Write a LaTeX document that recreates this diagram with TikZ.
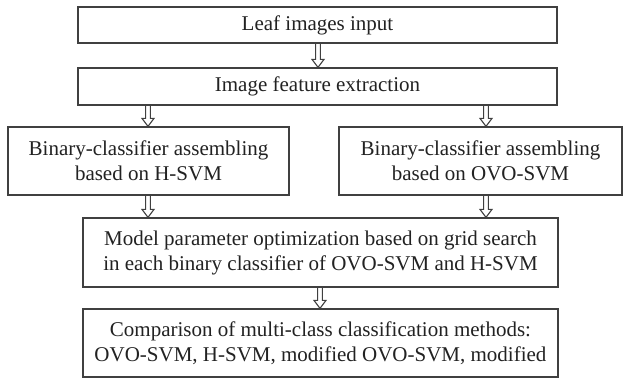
\documentclass[tikz,border=0pt]{standalone}
\usepackage{fontspec}
\setmainfont{Liberation Serif}
\usetikzlibrary{calc}
\definecolor{ln}{HTML}{404040}
\definecolor{tx}{HTML}{222222}
\tikzset{
  box/.style={draw=ln, line width=1.3pt, inner sep=0pt, align=center, text=tx,
    font=\fontsize{21}{25}\selectfont},
  hollow/.style={draw=ln, line width=1.1pt, line join=miter, to path={
    ($(\tikztostart)+(-2.4pt,0)$) -- ($(\tikztotarget)+(-2.4pt,8pt)$) --
    ($(\tikztotarget)+(-6pt,8pt)$) -- (\tikztotarget) --
    ($(\tikztotarget)+(6pt,8pt)$) -- ($(\tikztotarget)+(2.4pt,8pt)$) --
    ($(\tikztostart)+(2.4pt,0)$)}}
}
\begin{document}
\begin{tikzpicture}[x=1pt,y=-1pt]
\useasboundingbox[fill=white] (0,0) rectangle (630,378);
\node[box, minimum width=479pt, minimum height=36pt] (b1) at (317.5,25) {Leaf images input};
\node[box, minimum width=479pt, minimum height=37pt] (b2) at (317.5,86.5) {Image feature extraction};
\node[box, minimum width=281pt, minimum height=68pt] (h) at (148.5,161) {Binary-classifier assembling\\based on H-SVM};
\node[box, minimum width=283pt, minimum height=68pt] (o) at (480.5,161) {Binary-classifier assembling\\based on OVO-SVM};
\node[box, minimum width=475pt, minimum height=69pt] (m) at (320.5,252.5) {Model parameter optimization based on grid search\\in each binary classifier of OVO-SVM and H-SVM};
\node[box, minimum width=475pt, minimum height=68pt] (c) at (320.5,343) {Comparison of multi-class classification methods:\\OVO-SVM, H-SVM, modified OVO-SVM, modified};
\coordinate (xa) at (318,0);
\coordinate (xh) at (148,0);
\coordinate (xo) at (486,0);
\coordinate (xc) at (320,0);
\draw[hollow] (b1.south -| xa) to (b2.north -| xa);
\draw[hollow] (b2.south -| xh) to (h.north -| xh);
\draw[hollow] (b2.south -| xo) to (o.north -| xo);
\draw[hollow] (h.south -| xh) to (m.north -| xh);
\draw[hollow] (o.south -| xo) to (m.north -| xo);
\draw[hollow] (m.south -| xc) to (c.north -| xc);
\end{tikzpicture}
\end{document}
